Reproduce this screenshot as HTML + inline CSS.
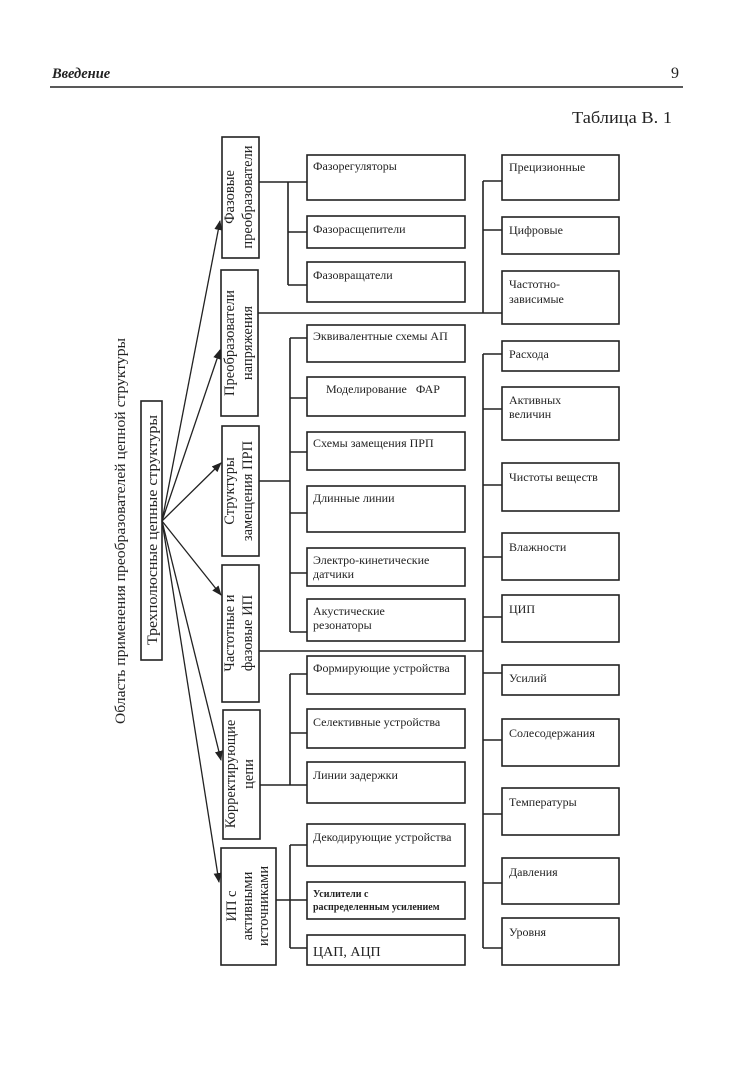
<!DOCTYPE html>
<html><head><meta charset="utf-8"><style>
html,body{margin:0;padding:0;background:#fff;}
svg{display:block;}
text{font-family:"Liberation Serif","DejaVu Serif",serif;fill:#222;}
.b{font-size:12px;}
.c{font-size:14.5px;}
</style></head><body>
<svg width="733" height="1080" viewBox="0 0 733 1080" xmlns="http://www.w3.org/2000/svg">
<defs><marker id="ah" markerWidth="10" markerHeight="8" refX="9" refY="4" orient="auto" markerUnits="userSpaceOnUse"><path d="M0,0 L10,4 L0,8 Z" fill="#222"/></marker></defs>
<text x="52" y="78" style="font-size:14.5px;font-style:italic;font-weight:bold">Введение</text>
<text x="671" y="78" style="font-size:16px">9</text>
<line x1="50" y1="87" x2="683" y2="87" stroke="#222" stroke-width="1.6"/>
<text x="572" y="123" style="font-size:17px" textLength="100" lengthAdjust="spacingAndGlyphs">Таблица В. 1</text>

<text transform="rotate(-90 120 531)" x="120" y="536" text-anchor="middle" style="font-size:15px" textLength="386" lengthAdjust="spacingAndGlyphs">Область применения преобразователей цепной структуры</text>

<g fill="none" stroke="#222" stroke-width="1.6">
<rect x="141" y="401" width="21" height="259"/>
<rect x="222" y="137" width="37" height="121"/>
<rect x="221" y="270" width="37" height="146"/>
<rect x="222" y="426" width="37" height="130"/>
<rect x="222" y="565" width="37" height="137"/>
<rect x="223" y="710" width="37" height="129"/>
<rect x="221" y="848" width="55" height="117"/>
<rect x="307" y="155" width="158" height="45"/>
<rect x="307" y="216" width="158" height="32"/>
<rect x="307" y="262" width="158" height="40"/>
<rect x="307" y="325" width="158" height="37"/>
<rect x="307" y="377" width="158" height="39"/>
<rect x="307" y="432" width="158" height="38"/>
<rect x="307" y="486" width="158" height="46"/>
<rect x="307" y="548" width="158" height="38"/>
<rect x="307" y="599" width="158" height="42"/>
<rect x="307" y="656" width="158" height="38"/>
<rect x="307" y="709" width="158" height="39"/>
<rect x="307" y="762" width="158" height="41"/>
<rect x="307" y="824" width="158" height="42"/>
<rect x="307" y="882" width="158" height="37"/>
<rect x="307" y="935" width="158" height="30"/>
<rect x="502" y="155" width="117" height="45"/>
<rect x="502" y="217" width="117" height="37"/>
<rect x="502" y="271" width="117" height="53"/>
<rect x="502" y="341" width="117" height="30"/>
<rect x="502" y="387" width="117" height="53"/>
<rect x="502" y="463" width="117" height="48"/>
<rect x="502" y="533" width="117" height="47"/>
<rect x="502" y="595" width="117" height="47"/>
<rect x="502" y="665" width="117" height="30"/>
<rect x="502" y="719" width="117" height="47"/>
<rect x="502" y="788" width="117" height="47"/>
<rect x="502" y="858" width="117" height="46"/>
<rect x="502" y="918" width="117" height="47"/>
<path d="M259 182H307M288 182V285M288 232H307M288 285H307"/>
<path d="M258 313H502M483 181V313M483 181H502M483 230H502"/>
<path d="M259 481H290M290 338V632M290 338H307M290 398H307M290 452H307M290 513H307M290 573H307M290 632H307"/>
<path d="M259 651H483M483 354V948M483 354H502M483 409H502M483 485H502M483 557H502M483 617H502M483 673H502M483 740H502M483 814H502M483 883H502M483 948H502"/>
<path d="M260 785H307M290 674V785M290 674H307M290 733H307"/>
<path d="M276 900H307M290 845V948M290 845H307M290 948H307"/>
</g>
<g stroke="#222" stroke-width="1.3" marker-end="url(#ah)">
<line x1="162" y1="521" x2="220" y2="221"/>
<line x1="162" y1="521" x2="220" y2="350"/>
<line x1="162" y1="521" x2="221" y2="463"/>
<line x1="162" y1="521" x2="221" y2="595"/>
<line x1="162" y1="521" x2="221" y2="760"/>
<line x1="162" y1="521" x2="219" y2="882"/>
</g>

<text class="c" transform="rotate(-90 152 530)" x="152" y="535" text-anchor="middle" textLength="230" lengthAdjust="spacingAndGlyphs">Трехполюсные цепные структуры</text>
<g class="c" text-anchor="middle">
<text transform="rotate(-90 240 197)" x="240" y="191">Фазовые</text>
<text transform="rotate(-90 240 197)" x="240" y="209">преобразователи</text>
<text transform="rotate(-90 240 343)" x="240" y="337">Преобразователи</text>
<text transform="rotate(-90 240 343)" x="240" y="355">напряжения</text>
<text transform="rotate(-90 240 491)" x="240" y="485">Структуры</text>
<text transform="rotate(-90 240 491)" x="240" y="503">замещения ПРП</text>
<text transform="rotate(-90 240 633)" x="240" y="627">Частотные и</text>
<text transform="rotate(-90 240 633)" x="240" y="645">фазовые ИП</text>
<text transform="rotate(-90 241 774)" x="241" y="768">Корректирующие</text>
<text transform="rotate(-90 241 774)" x="241" y="786">цепи</text>
<text transform="rotate(-90 248 906)" x="248" y="894">ИП с</text>
<text transform="rotate(-90 248 906)" x="248" y="910">активными</text>
<text transform="rotate(-90 248 906)" x="248" y="926">источниками</text>
</g>

<g class="b">
<text x="313" y="170">Фазорегуляторы</text>
<text x="313" y="233">Фазорасщепители</text>
<text x="313" y="279">Фазовращатели</text>
<text x="313" y="340">Эквивалентные схемы АП</text>
<text x="326" y="393">Моделирование&#160;&#160;&#160;ФАР</text>
<text x="313" y="447">Схемы замещения ПРП</text>
<text x="313" y="502">Длинные линии</text>
<text x="313" y="564">Электро-кинетические</text>
<text x="313" y="578">датчики</text>
<text x="313" y="615">Акустические</text>
<text x="313" y="629">резонаторы</text>
<text x="313" y="672">Формирующие устройства</text>
<text x="313" y="726">Селективные устройства</text>
<text x="313" y="779">Линии задержки</text>
<text x="313" y="841">Декодирующие устройства</text>
<text x="313" y="897" style="font-size:10px;font-weight:bold">Усилители с</text>
<text x="313" y="910" style="font-size:10px;font-weight:bold">распределенным усилением</text>
<text x="313" y="956" style="font-size:14px">ЦАП, АЦП</text>

<text x="509" y="171">Прецизионные</text>
<text x="509" y="234">Цифровые</text>
<text x="509" y="288">Частотно-</text>
<text x="509" y="303">зависимые</text>
<text x="509" y="358">Расхода</text>
<text x="509" y="404">Активных</text>
<text x="509" y="418">величин</text>
<text x="509" y="481">Чистоты веществ</text>
<text x="509" y="551">Влажности</text>
<text x="509" y="613">ЦИП</text>
<text x="509" y="682">Усилий</text>
<text x="509" y="737">Солесодержания</text>
<text x="509" y="806">Температуры</text>
<text x="509" y="876">Давления</text>
<text x="509" y="936">Уровня</text>
</g>
</svg>
</body></html>
